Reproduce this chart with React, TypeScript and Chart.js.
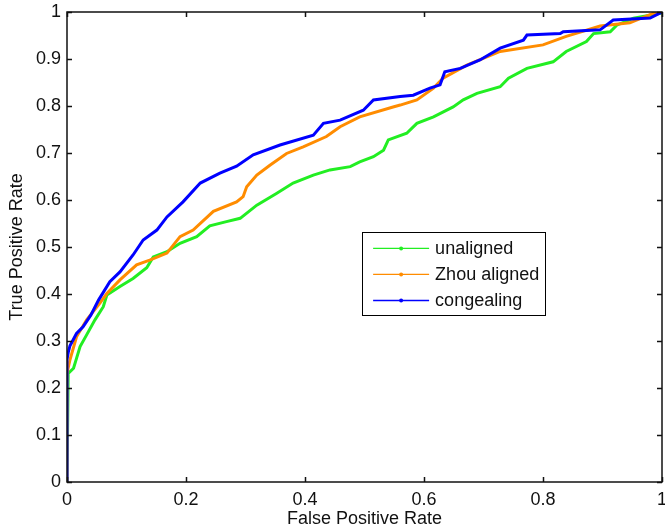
import React, { useEffect, useRef } from "react";
import { Chart, registerables } from "chart.js";

Chart.register(...registerables);

const seriesNames = ["unaligned", "Zhou aligned", "congealing"];
const seriesColors = ["#22ee22", "#ff8c00", "#0000ff"];

const unalignedFpr = [0, 0.002, 0.011, 0.016, 0.022, 0.033, 0.047, 0.061, 0.067, 0.089, 0.111, 0.134, 0.145, 0.168, 0.19, 0.218, 0.24, 0.268, 0.291, 0.319, 0.352, 0.38, 0.414, 0.442, 0.476, 0.492, 0.515, 0.532, 0.54, 0.571, 0.588, 0.616, 0.649, 0.666, 0.689, 0.728, 0.742, 0.773, 0.817, 0.839, 0.873, 0.885, 0.913, 0.924, 0.952, 0.997, 1];
const unalignedTpr = [0, 0.231, 0.242, 0.263, 0.288, 0.313, 0.345, 0.373, 0.398, 0.416, 0.433, 0.456, 0.479, 0.49, 0.508, 0.522, 0.545, 0.554, 0.561, 0.589, 0.614, 0.636, 0.653, 0.664, 0.671, 0.681, 0.692, 0.706, 0.728, 0.742, 0.763, 0.777, 0.798, 0.813, 0.827, 0.841, 0.859, 0.88, 0.894, 0.916, 0.937, 0.954, 0.958, 0.972, 0.987, 0.997, 1];

const zhouFpr = [0, 0, 0.005, 0.016, 0.033, 0.055, 0.067, 0.089, 0.117, 0.139, 0.168, 0.19, 0.212, 0.246, 0.285, 0.296, 0.302, 0.319, 0.341, 0.369, 0.397, 0.436, 0.459, 0.492, 0.548, 0.56, 0.588, 0.616, 0.632, 0.672, 0.728, 0.8, 0.839, 0.896, 0.946, 0.985, 1];
const zhouTpr = [0, 0.231, 0.26, 0.309, 0.345, 0.38, 0.401, 0.43, 0.462, 0.472, 0.487, 0.522, 0.536, 0.576, 0.596, 0.607, 0.628, 0.653, 0.674, 0.699, 0.713, 0.735, 0.756, 0.777, 0.798, 0.802, 0.813, 0.838, 0.859, 0.887, 0.916, 0.93, 0.948, 0.97, 0.977, 0.997, 1];

const congealingFpr = [0, 0, 0.002, 0.005, 0.016, 0.027, 0.04, 0.053, 0.072, 0.089, 0.111, 0.128, 0.151, 0.168, 0.195, 0.224, 0.257, 0.285, 0.313, 0.358, 0.414, 0.431, 0.459, 0.498, 0.515, 0.56, 0.582, 0.61, 0.627, 0.635, 0.661, 0.694, 0.728, 0.767, 0.773, 0.829, 0.834, 0.896, 0.918, 0.98, 1];
const congealingTpr = [0, 0.26, 0.275, 0.29, 0.316, 0.33, 0.355, 0.387, 0.426, 0.447, 0.483, 0.515, 0.536, 0.564, 0.596, 0.636, 0.657, 0.672, 0.696, 0.717, 0.738, 0.763, 0.77, 0.791, 0.813, 0.82, 0.823, 0.838, 0.845, 0.873, 0.88, 0.898, 0.923, 0.94, 0.951, 0.954, 0.958, 0.962, 0.983, 0.987, 1];

const xTicks = [0, 0.2, 0.4, 0.6, 0.8, 1];
const yTicks = [0, 0.1, 0.2, 0.3, 0.4, 0.5, 0.6, 0.7, 0.8, 0.9, 1];
const xTitle = "False Positive Rate";
const yTitle = "True Positive Rate";

const FONT = "'Liberation Sans', Arial, Helvetica, sans-serif";

function pts(xs: number[], ys: number[]) {
  return xs.map((x, i) => ({ x, y: ys[i] }));
}

const framePlugin = {
  id: "frame",
  afterDatasetsDraw(chart: any) {
    const { ctx, chartArea } = chart;
    const { left, right, top, bottom } = chartArea;
    const xs = chart.scales.x;
    const ys = chart.scales.y;
    ctx.save();
    ctx.strokeStyle = "#111";
    ctx.lineWidth = 1.5;
    const tl = 5;
    ctx.beginPath();
    xTicks.forEach((v) => {
      const px = Math.round(xs.getPixelForValue(v)) + 0.5;
      ctx.moveTo(px, bottom);
      ctx.lineTo(px, bottom - tl);
      ctx.moveTo(px, top);
      ctx.lineTo(px, top + tl);
    });
    yTicks.forEach((v) => {
      const py = Math.round(ys.getPixelForValue(v)) + 0.5;
      ctx.moveTo(left, py);
      ctx.lineTo(left + tl, py);
      ctx.moveTo(right, py);
      ctx.lineTo(right - tl, py);
    });
    ctx.stroke();
    ctx.strokeRect(left, top, right - left, bottom - top);

    // titles
    ctx.fillStyle = "#111";
    ctx.font = `18px ${FONT}`;
    ctx.textAlign = "center";
    ctx.textBaseline = "middle";
    ctx.fillText(xTitle, (left + right) / 2, 519);
    ctx.save();
    ctx.translate(17, (top + bottom) / 2);
    ctx.rotate(-Math.PI / 2);
    ctx.fillText(yTitle, 0, 0);
    ctx.restore();

    // legend
    const w = right - left;
    const h = bottom - top;
    const lx = left + w * 0.496;
    const ly = top + h * 0.469;
    const lw = 183;
    const lh = 83;
    ctx.fillStyle = "#fff";
    ctx.fillRect(lx, ly, lw, lh);
    ctx.lineWidth = 1;
    ctx.strokeStyle = "#000";
    ctx.strokeRect(Math.round(lx) + 0.5, Math.round(ly) + 0.5, lw, lh);
    seriesNames.forEach((name, i) => {
      const yy = ly + 16 + i * 26;
      ctx.strokeStyle = seriesColors[i];
      ctx.lineWidth = i === 2 ? 1.5 : 1.2;
      ctx.beginPath();
      ctx.moveTo(lx + 11, yy);
      ctx.lineTo(lx + 67, yy);
      ctx.stroke();
      ctx.fillStyle = seriesColors[i];
      ctx.beginPath();
      ctx.arc(lx + 39, yy, 2, 0, Math.PI * 2);
      ctx.fill();
      ctx.fillStyle = "#111";
      ctx.font = `18px ${FONT}`;
      ctx.textAlign = "left";
      ctx.textBaseline = "middle";
      ctx.fillText(name, lx + 73, yy + 1);
    });
    ctx.restore();
  },
};

export default function App() {
  const ref = useRef<HTMLCanvasElement | null>(null);
  useEffect(() => {
    document.body.style.margin = "0";
    const canvas = ref.current!;
    const data = [
      pts(unalignedFpr, unalignedTpr),
      pts(zhouFpr, zhouTpr),
      pts(congealingFpr, congealingTpr),
    ];
    const chart = new Chart(canvas, {
      type: "line",
      data: {
        datasets: seriesNames.map((name, i) => ({
          label: name,
          data: data[i],
          borderColor: seriesColors[i],
          backgroundColor: seriesColors[i],
          borderWidth: 3,
          pointRadius: 0,
          tension: 0,
          fill: false,
          order: 2 - i,
        })),
      },
      options: {
        animation: false,
        responsive: false,
        maintainAspectRatio: false,
        layout: { padding: { left: 0, top: 12, right: 3, bottom: 0 } },
        plugins: { legend: { display: false }, tooltip: { enabled: false } },
        scales: {
          x: {
            type: "linear",
            min: 0,
            max: 1,
            grid: { display: false, drawTicks: false },
            border: { display: false },
            afterBuildTicks: (s: any) => {
              s.ticks = xTicks.map((v) => ({ value: v }));
            },
            afterFit: (s: any) => {
              s.height = 47;
              s.paddingLeft = 0;
              s.paddingRight = 0;
              s.paddingTop = 0;
              s.paddingBottom = 0;
            },
            ticks: {
              padding: 7,
              maxRotation: 0,
              autoSkip: false,
              color: "#111",
              font: { family: FONT, size: 18 },
              callback: (v: any) => String(v),
            },
          },
          y: {
            type: "linear",
            min: 0,
            max: 1,
            grid: { display: false, drawTicks: false },
            border: { display: false },
            afterBuildTicks: (s: any) => {
              s.ticks = yTicks.map((v) => ({ value: v }));
            },
            afterFit: (s: any) => {
              s.width = 67;
              s.paddingLeft = 0;
              s.paddingRight = 0;
              s.paddingTop = 0;
              s.paddingBottom = 0;
            },
            ticks: {
              padding: 6,
              autoSkip: false,
              color: "#111",
              font: { family: FONT, size: 18 },
              callback: (v: any) => String(v),
            },
          },
        },
      },
      plugins: [framePlugin],
    } as any);
    return () => chart.destroy();
  }, []);
  return <canvas ref={ref} width={665} height={529} style={{ display: "block" }} />;
}
